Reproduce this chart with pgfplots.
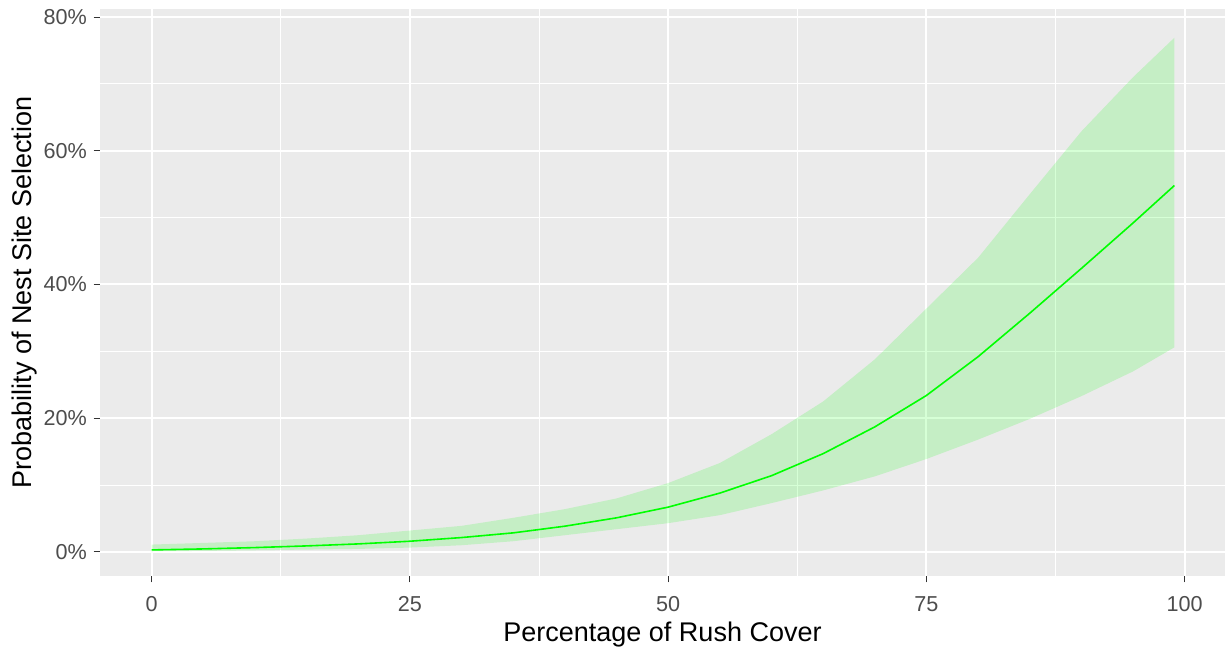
\documentclass[border=0pt]{standalone}
\usepackage{pgfplots}
\pgfplotsset{compat=1.18}
\usepackage{fontspec}
\setmainfont{Liberation Sans}
\definecolor{panelbg}{HTML}{EBEBEB}
\definecolor{tickgray}{HTML}{333333}
\definecolor{labgray}{HTML}{4D4D4D}
\definecolor{lgreen}{HTML}{00FF00}
\begin{document}
\begin{tikzpicture}
\begin{axis}[
  name=ax, at={(0,0)}, anchor=south west,
  scale only axis, width=562.5bp, height=283.5bp,
  xmin=-5.0, xmax=103.9, ymin=-3.6, ymax=81.2,
  axis background/.style={fill=panelbg},
  axis line style={draw=none},
  xtick={0,25,50,75,100}, xticklabels={0,25,50,75,100},
  ytick={0,20,40,60,80}, yticklabels={0\%,20\%,40\%,60\%,80\%},
  minor xtick={12.5,37.5,62.5,87.5}, minor ytick={10,30,50,70},
  grid=both,
  major grid style={white, line width=1.0bp},
  minor grid style={white, line width=0.55bp},
  tick align=outside, major tick length=3.2bp, minor tick length=0pt,
  xtick pos=bottom, ytick pos=left,
  tick style={tickgray, line width=0.5bp},
  ticklabel style={font=\fontsize{10.8bp}{13bp}\selectfont, text=labgray},
  xticklabel style={inner sep=0pt, anchor=north, yshift=-6.8bp},
  yticklabel style={inner sep=0pt, anchor=east, xshift=-3.2bp},
]
\addplot[fill=lgreen, fill opacity=0.16, draw=none] coordinates {
(0,1.1)(5,1.35)(10,1.6)(15,2.0)(20,2.5)(25,3.2)(30,3.9)(35,5.1)(40,6.4)(45,8.0)(50,10.3)(55,13.3)(60,17.6)(65,22.5)(70,28.8)(75,36.4)(80,44.0)(85,53.5)(90,62.9)(95,71.0)(99,76.9)
(99,30.6)(95,27.0)(90,23.3)(85,19.9)(80,16.8)(75,13.9)(70,11.3)(65,9.2)(60,7.3)(55,5.5)(50,4.3)(45,3.4)(40,2.5)(35,1.6)(30,1.0)(25,0.65)(20,0.45)(15,0.35)(10,0.25)(5,0.15)(0,0.1)
} -- cycle;
\addplot[lgreen, line width=0.8bp] coordinates {
(0,0.3)(5,0.45)(10,0.65)(15,0.9)(20,1.2)(25,1.6)(30,2.15)(35,2.85)(40,3.85)(45,5.1)(50,6.7)(55,8.8)(60,11.4)(65,14.7)(70,18.7)(75,23.4)(80,29.2)(85,35.7)(90,42.4)(95,49.2)(99,54.8)
};
\end{axis}
\node[anchor=base, font=\fontsize{13.5bp}{16bp}\selectfont] at (281.25bp,-32.85bp) {Percentage of Rush Cover};
\node[anchor=base, rotate=90, font=\fontsize{13.5bp}{16bp}\selectfont] at (-34.25bp,141.75bp) {Probability of Nest Site Selection};
\pgfresetboundingbox
\path[use as bounding box] (-50bp,-39bp) rectangle (562.5bp,288bp);
\end{tikzpicture}
\end{document}
